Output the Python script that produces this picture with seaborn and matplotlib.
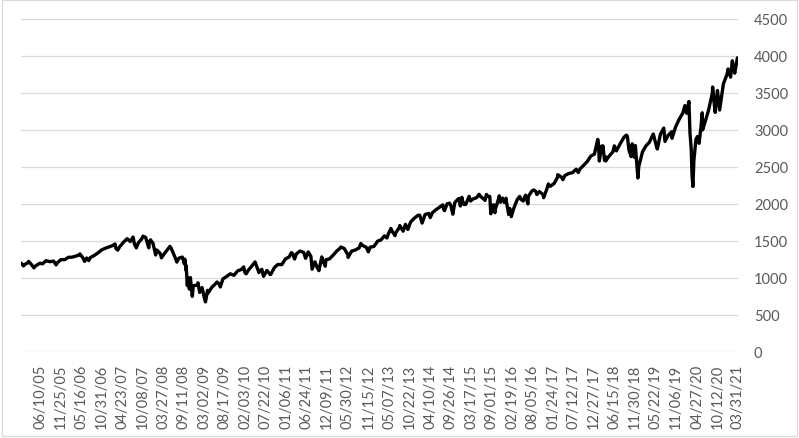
import numpy as np
import pandas as pd
import matplotlib
matplotlib.use('Agg')
import matplotlib.pyplot as plt
import seaborn as sns
from matplotlib.patches import Rectangle

# Datas e fechamentos (fim de mes + extremos)
datas = [
    '2005-01-03', '2005-01-24', '2005-01-31', '2005-02-28', '2005-03-07', '2005-03-31', '2005-04-20', '2005-04-29',
    '2005-05-31', '2005-06-10', '2005-06-30', '2005-07-29', '2005-08-31', '2005-09-30', '2005-10-20', '2005-10-31',
    '2005-11-30', '2005-12-30',
    '2006-01-31', '2006-02-28', '2006-03-31', '2006-04-28', '2006-05-05', '2006-05-31', '2006-06-13', '2006-06-30',
    '2006-07-17', '2006-07-31', '2006-08-31', '2006-09-29', '2006-10-31', '2006-11-30', '2006-12-29',
    '2007-01-31', '2007-02-20', '2007-02-27', '2007-03-14', '2007-03-30', '2007-04-30', '2007-05-31', '2007-06-26',
    '2007-06-29', '2007-07-19', '2007-07-31', '2007-08-15', '2007-08-31', '2007-09-28', '2007-10-09', '2007-10-31',
    '2007-11-26', '2007-11-30', '2007-12-10', '2007-12-31',
    '2008-01-22', '2008-01-31', '2008-02-29', '2008-03-10', '2008-03-31', '2008-04-30', '2008-05-19', '2008-05-30',
    '2008-06-30', '2008-07-15', '2008-07-31', '2008-08-29', '2008-09-15', '2008-09-19', '2008-09-29', '2008-09-30',
    '2008-10-10', '2008-10-13', '2008-10-27', '2008-10-31', '2008-11-04', '2008-11-20', '2008-11-28', '2008-12-31',
    '2009-01-06', '2009-01-20', '2009-01-30', '2009-02-09', '2009-02-27', '2009-03-09', '2009-03-26', '2009-03-31',
    '2009-04-30', '2009-05-29', '2009-06-12', '2009-06-30', '2009-07-10', '2009-07-31', '2009-08-31', '2009-09-30',
    '2009-10-30', '2009-11-30', '2009-12-31',
    '2010-01-19', '2010-01-29', '2010-02-08', '2010-02-26', '2010-03-31', '2010-04-23', '2010-04-30', '2010-05-25',
    '2010-05-28', '2010-06-18', '2010-06-30', '2010-07-02', '2010-07-30', '2010-08-26', '2010-08-31', '2010-09-30',
    '2010-10-29', '2010-11-30', '2010-12-31',
    '2011-01-31', '2011-02-18', '2011-02-28', '2011-03-16', '2011-03-31', '2011-04-29', '2011-05-31', '2011-06-15',
    '2011-06-30', '2011-07-07', '2011-07-29', '2011-08-08', '2011-08-31', '2011-09-22', '2011-09-30', '2011-10-03',
    '2011-10-27', '2011-10-31', '2011-11-25', '2011-11-30', '2011-12-30',
    '2012-01-31', '2012-02-29', '2012-03-30', '2012-04-02', '2012-04-30', '2012-05-31', '2012-06-01', '2012-06-29',
    '2012-07-31', '2012-08-31', '2012-09-14', '2012-09-28', '2012-10-31', '2012-11-15', '2012-11-30', '2012-12-31',
    '2013-01-31', '2013-02-28', '2013-03-28', '2013-04-18', '2013-04-30', '2013-05-21', '2013-05-31', '2013-06-24',
    '2013-06-28', '2013-07-31', '2013-08-02', '2013-08-30', '2013-09-18', '2013-09-30', '2013-10-08', '2013-10-31',
    '2013-11-29', '2013-12-31',
    '2014-01-15', '2014-02-03', '2014-02-28', '2014-03-31', '2014-04-11', '2014-04-30', '2014-05-30', '2014-06-30',
    '2014-07-24', '2014-07-31', '2014-08-07', '2014-08-29', '2014-09-18', '2014-09-30', '2014-10-15', '2014-10-31',
    '2014-11-28', '2014-12-05', '2014-12-16', '2014-12-29', '2014-12-31',
    '2015-01-15', '2015-01-30', '2015-02-27', '2015-03-11', '2015-03-31', '2015-04-30', '2015-05-21', '2015-05-29',
    '2015-06-30', '2015-07-08', '2015-07-20', '2015-07-31', '2015-08-17', '2015-08-25', '2015-08-31', '2015-09-17',
    '2015-09-28', '2015-09-30', '2015-10-30', '2015-11-03', '2015-11-13', '2015-11-30', '2015-12-14', '2015-12-29',
    '2015-12-31',
    '2016-01-20', '2016-01-29', '2016-02-11', '2016-02-29', '2016-03-31', '2016-04-20', '2016-04-29', '2016-05-19',
    '2016-05-31', '2016-06-08', '2016-06-27', '2016-06-30', '2016-07-29', '2016-08-15', '2016-08-31', '2016-09-09',
    '2016-09-30', '2016-10-31', '2016-11-04', '2016-11-30', '2016-12-13', '2016-12-30',
    '2017-01-31', '2017-02-28', '2017-03-01', '2017-03-31', '2017-04-13', '2017-04-28', '2017-05-31', '2017-06-30',
    '2017-07-31', '2017-08-18', '2017-08-31', '2017-09-29', '2017-10-31', '2017-11-30', '2017-12-29',
    '2018-01-26', '2018-01-31', '2018-02-08', '2018-02-26', '2018-02-28', '2018-03-09', '2018-03-23', '2018-03-29',
    '2018-04-02', '2018-04-30', '2018-05-31', '2018-06-12', '2018-06-29', '2018-07-31', '2018-08-31', '2018-09-20',
    '2018-09-28', '2018-10-11', '2018-10-29', '2018-10-31', '2018-11-07', '2018-11-23', '2018-11-30', '2018-12-03',
    '2018-12-24', '2018-12-31',
    '2019-01-31', '2019-02-28', '2019-03-29', '2019-04-30', '2019-05-31', '2019-06-03', '2019-06-28', '2019-07-26',
    '2019-08-05', '2019-08-30', '2019-09-30', '2019-10-02', '2019-10-31', '2019-11-29', '2019-12-31',
    '2020-01-17', '2020-01-31', '2020-02-19', '2020-02-28', '2020-03-09', '2020-03-16', '2020-03-23', '2020-03-31',
    '2020-04-17', '2020-04-30', '2020-05-13', '2020-05-29', '2020-06-08', '2020-06-11', '2020-06-30', '2020-07-31',
    '2020-08-31', '2020-09-02', '2020-09-23', '2020-09-30', '2020-10-12', '2020-10-30', '2020-11-30', '2020-12-31',
    '2021-01-08', '2021-01-29', '2021-02-12', '2021-02-26', '2021-03-04', '2021-03-26', '2021-03-31',
]

fechamentos = [
    1202, 1163, 1181, 1204, 1225, 1181, 1137, 1157,
    1192, 1200, 1191, 1234, 1220, 1229, 1177, 1207,
    1249, 1248,
    1280, 1281, 1295, 1311, 1325, 1270, 1224, 1270,
    1235, 1277, 1304, 1336, 1378, 1401, 1418,
    1438, 1460, 1399, 1377, 1421, 1482, 1531, 1492,
    1503, 1553, 1455, 1407, 1474, 1527, 1565, 1549,
    1407, 1481, 1516, 1468,
    1311, 1379, 1331, 1273, 1323, 1386, 1427, 1400,
    1280, 1215, 1267, 1283, 1193, 1255, 1106, 1166,
    899, 1003, 849, 969, 1006, 752, 896, 903,
    935, 805, 826, 870, 735, 677, 833, 798,
    873, 919, 946, 919, 879, 987, 1021, 1057,
    1036, 1096, 1115,
    1150, 1074, 1056, 1104, 1169, 1217, 1187, 1074,
    1089, 1117, 1031, 1023, 1102, 1047, 1049, 1141,
    1183, 1181, 1258,
    1286, 1343, 1327, 1257, 1326, 1364, 1345, 1266,
    1321, 1353, 1292, 1119, 1219, 1130, 1131, 1099,
    1285, 1253, 1159, 1247, 1258,
    1312, 1366, 1408, 1419, 1398, 1310, 1278, 1362,
    1379, 1407, 1466, 1441, 1412, 1353, 1416, 1426,
    1498, 1515, 1569, 1541, 1598, 1669, 1631, 1573,
    1606, 1686, 1709, 1633, 1725, 1682, 1656, 1757,
    1806, 1848,
    1848, 1742, 1859, 1872, 1816, 1884, 1924, 1960,
    1988, 1931, 1910, 2003, 2011, 1972, 1862, 2018,
    2068, 2075, 1973, 2091, 2059,
    1993, 1995, 2104, 2040, 2068, 2086, 2131, 2107,
    2063, 2047, 2129, 2104, 2102, 1868, 1972, 1990,
    1882, 1920, 2079, 2110, 2023, 2080, 2022, 2078,
    2044,
    1859, 1940, 1829, 1932, 2060, 2102, 2065, 2040,
    2097, 2119, 2001, 2099, 2174, 2190, 2171, 2128,
    2168, 2126, 2085, 2199, 2271, 2239,
    2279, 2364, 2396, 2363, 2329, 2384, 2412, 2423,
    2470, 2426, 2472, 2519, 2575, 2648, 2674,
    2873, 2824, 2581, 2780, 2714, 2787, 2588, 2641,
    2582, 2648, 2705, 2786, 2718, 2816, 2902, 2931,
    2914, 2729, 2641, 2712, 2814, 2633, 2760, 2790,
    2351, 2507,
    2704, 2784, 2834, 2946, 2752, 2744, 2942, 3026,
    2845, 2926, 2977, 2888, 3038, 3141, 3231,
    3330, 3226, 3386, 2954, 2747, 2386, 2237, 2585,
    2875, 2912, 2820, 3044, 3232, 3002, 3100, 3271,
    3500, 3581, 3237, 3363, 3534, 3270, 3622, 3756,
    3825, 3714, 3935, 3811, 3768, 3975, 3973,
]

rotulos_x = [
    '06/10/05', '11/25/05', '05/16/06', '10/31/06', '04/23/07', '10/08/07', '03/27/08', '09/11/08', '03/02/09',
    '08/17/09', '02/03/10', '07/22/10', '01/06/11', '06/24/11', '12/09/11', '05/30/12', '11/15/12', '05/07/13',
    '10/22/13', '04/10/14', '09/26/14', '03/17/15', '09/01/15', '02/19/16', '08/05/16', '01/24/17', '07/12/17',
    '12/27/17', '06/15/18', '11/30/18', '05/22/19', '11/06/19', '04/27/20', '10/12/20', '03/31/21',
]
ticks_y = [0, 500, 1000, 1500, 2000, 2500, 3000, 3500, 4000, 4500]

sns.set_style('white')
plt.rcParams['font.family'] = ['Lato', 'DejaVu Sans']

df = pd.DataFrame({'data': pd.to_datetime(datas), 'valor': fechamentos})

fig = plt.figure(figsize=(7.99, 4.39), dpi=100)
ax = fig.add_axes([21 / 799, 86 / 439, 717 / 799, 333 / 439])

sns.lineplot(data=df, x='data', y='valor', color='black', lw=2.4, ax=ax)
ax.lines[0].set_solid_joinstyle('round')

ax.set_xlim(df['data'].iloc[0], df['data'].iloc[-1])
ax.set_ylim(0, 4500)
ax.set_xticks(pd.to_datetime(rotulos_x, format='%m/%d/%y'))
ax.set_xticklabels(rotulos_x, rotation=90)
ax.set_yticks(ticks_y)
ax.set_yticklabels([str(v) for v in ticks_y])
ax.yaxis.tick_right()
ax.set_xlabel('')
ax.set_ylabel('')

cinza = '#595959'
ax.tick_params(axis='x', length=0, pad=8.5, labelsize=10.5, colors=cinza)
ax.tick_params(axis='y', length=0, pad=11.5, labelsize=10.5, colors=cinza)
ax.grid(axis='y', color='#d9d9d9', lw=0.9)
ax.grid(axis='x', visible=False)
ax.set_axisbelow(True)
for s in ax.spines.values():
    s.set_visible(False)

# borda da area do grafico (estilo Excel)
fig.patches.append(Rectangle((2 / 799, 2 / 439), 795 / 799, 436 / 439, transform=fig.transFigure,
                             fill=False, ec='#d9d9d9', lw=0.9))

fig.savefig('out.png', dpi=100)
plt.close(fig)
